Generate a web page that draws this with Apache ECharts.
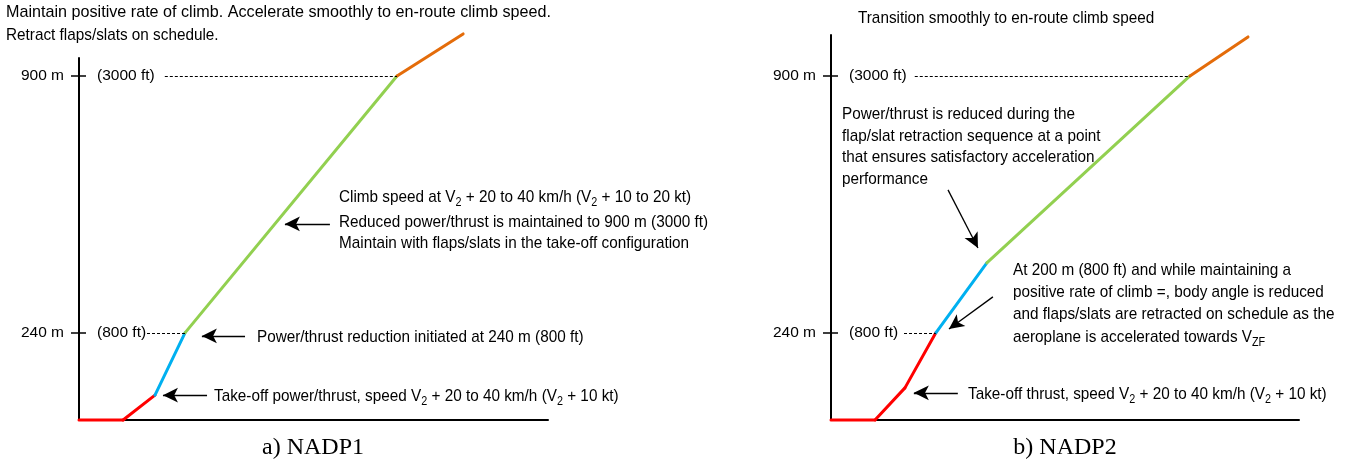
<!DOCTYPE html>
<html>
<head>
<meta charset="utf-8">
<script src="https://cdn.jsdelivr.net/npm/echarts@6/dist/echarts.min.js"></script>
<style>
  html, body { margin: 0; padding: 0; background: #fff; }
  #chart { width: 1351px; height: 471px; }
</style>
</head>
<body>
<div id="chart"></div>
<script>
// schematic, not to scale: distance 0..100 along the ground, height in drawing units (ground 0, 900 m mark = 900)
const distA = [0, 9.4, 16.2, 22.6, 67.8, 81.9];
const altA = [0, 0, 65, 228, 900, 1010];
const colorsA = ['#ff0000', '#ff0000', '#00b0f0', '#92d050', '#e46c0a'];

const distB = [0, 9.4, 15.8, 22.4, 33.3, 76.7, 89.1];
const altB = [0, 0, 84, 228, 411, 900, 1002];
const colorsB = ['#ff0000', '#ff0000', '#ff0000', '#00b0f0', '#92d050', '#e46c0a'];

const tickAlt = [228, 900];
const tickMetres = ['240 m', '900 m'];
const tickFeet = ['(800 ft)', '(3000 ft)'];

// dashed guides [fromDist, toDist, height]
const guidesA = [[14.5, 22.6, 228], [18.3, 67.8, 900]];
const guidesB = [[15.6, 22.4, 228], [17.9, 76.7, 900]];

// arrows [tailX, tailY, headX, headY]
const arrowsA = [[60.8, 1012, 70.1, 937], [53.5, 513, 43.9, 513], [35.4, 220, 26.2, 220], [27.3, 65, 17.9, 65]];
const arrowsB = [[70.9, 1026, 79.1, 952], [25.0, 602, 31.4, 450], [34.6, 322, 25.2, 238], [27.1, 71, 17.7, 71]];

const sans = "'Liberation Sans', Arial, sans-serif";
const serif = "'Liberation Serif', 'Times New Roman', serif";

// text notes [left, middleY, text, horizontal squeeze]
const notes = [
  [6, 12, 'Maintain positive rate of climb. Accelerate smoothly to en-route climb speed.', 0.95],
  [6, 35, 'Retract flaps/slats on schedule.', 0.9],
  [339, 199, '{n|Climb speed at V}{s|2}{n| + 20 to 40 km/h (V}{s|2}{n| + 10 to 20 kt)}', 0.9],
  [339, 222, 'Reduced power/thrust is maintained to 900 m (3000 ft)', 0.9],
  [339, 243, 'Maintain with flaps/slats in the take-off configuration', 0.9],
  [257, 337, 'Power/thrust reduction initiated at 240 m (800 ft)', 0.9],
  [214, 398, '{n|Take-off power/thrust, speed V}{s|2}{n| + 20 to 40 km/h (V}{s|2}{n| + 10 kt)}', 0.9],
  [858, 18, 'Transition smoothly to en-route climb speed', 0.9],
  [842, 114, 'Power/thrust is reduced during the', 0.9],
  [842, 136, 'flap/slat retraction sequence at a point', 0.9],
  [842, 157, 'that ensures satisfactory acceleration', 0.9],
  [842, 179, 'performance', 0.9],
  [1013, 270, 'At 200 m (800 ft) and while maintaining a', 0.9],
  [1013, 292, 'positive rate of climb =, body angle is reduced', 0.9],
  [1013, 314, 'and flaps/slats are retracted on schedule as the', 0.9],
  [1013, 339, '{n|aeroplane is accelerated towards V}{s|ZF}', 0.9],
  [968, 396, '{n|Take-off thrust, speed V}{s|2}{n| + 20 to 40 km/h (V}{s|2}{n| + 10 kt)}', 0.9]
];
const captions = [[313, 448, 'a) NADP1'], [1065, 448, 'b) NADP2']];

// main run sits at the top of a tall line box, subscript at its bottom
const rich = {
  n: { fontSize: 17, fontFamily: sans, lineHeight: 20, verticalAlign: 'top', fill: '#000' },
  s: { fontSize: 12, fontFamily: sans, lineHeight: 12, padding: [13, 0, 0, 0], verticalAlign: 'bottom', fill: '#000' }
};

function axesFor(i, max) {
  const x = {
    gridIndex: i, type: 'value', min: 0, max: 100,
    axisLine: { onZero: false, lineStyle: { color: '#000', width: 2 } },
    axisTick: { show: false }, axisLabel: { show: false }, splitLine: { show: false }
  };
  const yMain = {
    gridIndex: i, type: 'value', min: 0, max: max,
    axisLine: { show: true, onZero: false, lineStyle: { color: '#000', width: 2 } },
    axisTick: { show: true, length: 8, customValues: tickAlt, lineStyle: { color: '#000', width: 1.5 } },
    axisLabel: {
      customValues: tickAlt, margin: 15, color: '#000', fontSize: 15.5, fontFamily: sans,
      formatter: v => tickMetres[tickAlt.indexOf(v)]
    },
    splitLine: { show: false }
  };
  const yFeet = {
    gridIndex: i, type: 'value', min: 0, max: max, position: 'left',
    axisLine: { show: false },
    axisTick: { show: true, inside: true, length: 7, customValues: tickAlt, lineStyle: { color: '#000', width: 1.5 } },
    axisLabel: {
      inside: true, customValues: tickAlt, margin: 18, color: '#000', fontSize: 15.5, fontFamily: sans,
      formatter: v => tickFeet[tickAlt.indexOf(v)]
    },
    splitLine: { show: false }
  };
  return { x, y: [yMain, yFeet] };
}

function pathSeries(i, dist, alt, colors, guides, arrows) {
  const out = [];
  for (let k = 0; k < colors.length; k++) {
    out.push({
      type: 'line', xAxisIndex: i, yAxisIndex: i * 2, clip: false, silent: true,
      symbol: 'none',
      data: [[dist[k], alt[k]], [dist[k + 1], alt[k + 1]]],
      lineStyle: { color: colors[k], width: 3, cap: 'round' }
    });
  }
  const marks = [];
  guides.forEach(g => {
    marks.push([
      { coord: [g[0], g[2]], symbol: 'none', lineStyle: { type: [3, 2], color: '#000', width: 1 } },
      { coord: [g[1], g[2]], symbol: 'none' }
    ]);
  });
  arrows.forEach(a => {
    marks.push([
      { coord: [a[0], a[1]], symbol: 'none', lineStyle: { type: 'solid', color: '#000', width: 1.3 } },
      { coord: [a[2], a[3]], symbol: 'arrow', symbolSize: [11, 15] }
    ]);
  });
  out[0].markLine = {
    silent: true, animation: false, precision: 4,
    label: { show: false },
    symbol: ['none', 'none'],
    data: marks
  };
  return out;
}

const axA = axesFor(0, 947);
const axB = axesFor(1, 1007);

const graphics = notes.map(n => ({
  type: 'text', x: n[0], y: n[1], scaleX: n[3], silent: true,
  style: {
    text: n[2], rich: rich, fill: '#000', fontSize: 17, fontFamily: sans,
    align: 'left', verticalAlign: 'middle'
  }
})).concat(captions.map(c => ({
  type: 'text', x: c[0], y: c[1], silent: true,
  style: {
    text: c[2], fill: '#000', fontSize: 24, fontFamily: serif,
    align: 'center', verticalAlign: 'middle'
  }
})));

const chart = echarts.init(document.getElementById('chart'));
chart.setOption({
  animation: false,
  backgroundColor: '#fff',
  grid: [
    { left: 79, top: 58, width: 469, bottom: 51 },
    { left: 831, top: 35, width: 468, bottom: 51 }
  ],
  xAxis: [axA.x, axB.x],
  yAxis: axA.y.concat(axB.y),
  series: pathSeries(0, distA, altA, colorsA, guidesA, arrowsA)
    .concat(pathSeries(1, distB, altB, colorsB, guidesB, arrowsB)),
  graphic: graphics
});
</script>
</body>
</html>
